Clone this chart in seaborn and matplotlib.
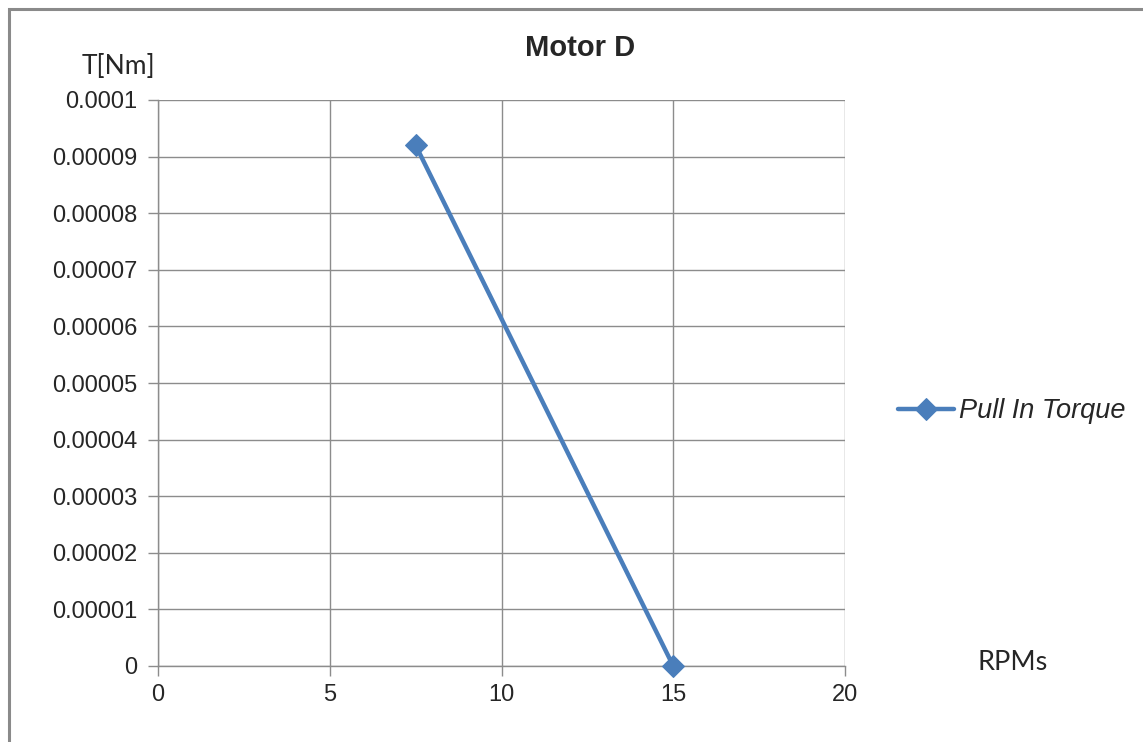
import pandas as pd
import numpy as np
import matplotlib
matplotlib.use("Agg")
import matplotlib.pyplot as plt
import seaborn as sns
from matplotlib.patches import Rectangle

# data
rpm = [7.5, 15]
torque = [0.000092, 0.0]
series_name = "Pull In Torque"
x_ticks = [0, 5, 10, 15, 20]
y_ticks = [0, 0.00001, 0.00002, 0.00003, 0.00004, 0.00005,
           0.00006, 0.00007, 0.00008, 0.00009, 0.0001]
y_labels = ["0", "0.00001", "0.00002", "0.00003", "0.00004", "0.00005",
            "0.00006", "0.00007", "0.00008", "0.00009", "0.0001"]

df = pd.DataFrame({"RPM": rpm, "Torque": torque, "Series": series_name})

sns.set_style("white")
plt.rcParams['font.family'] = ['Liberation Sans', 'DejaVu Sans']

W, H = 1143, 742
fig = plt.figure(figsize=(W / 100, H / 100), dpi=100)
ax = fig.add_axes([158/W, 1 - 666/H, (845-158)/W, (666-100)/H])

line_color = "#4A7EBB"
grid_color = "#8C8C8C"

sns.lineplot(data=df, x="RPM", y="Torque", hue="Series", palette=[line_color],
             marker="D", markersize=11, markeredgecolor=line_color,
             linewidth=3.2, ax=ax, zorder=5, clip_on=False)

ax.set_xlim(0, 20)
ax.set_ylim(0, 0.0001)
ax.set_xticks(x_ticks)
ax.set_xticklabels([str(t) for t in x_ticks], fontsize=17)
ax.set_yticks(y_ticks)
ax.set_yticklabels(y_labels, fontsize=17)
ax.set_xlabel("")
ax.set_ylabel("")

ax.grid(True, color=grid_color, linewidth=1)
for s in ["top", "right"]:
    ax.spines[s].set_visible(False)
for s in ["left", "bottom"]:
    ax.spines[s].set_color(grid_color)
    ax.spines[s].set_linewidth(1)
ax.tick_params(axis="both", direction="out", length=7, width=1,
               color=grid_color, left=True, bottom=True)
ax.tick_params(axis="y", pad=8)
ax.tick_params(axis="x", pad=6)

fig.text(580/W, 1 - 48/H, "Motor D", fontsize=21, fontweight="bold",
         ha="center", va="center")
fig.text(118/W, 1 - 66/H, "T[Nm]", fontsize=19, family="Lato",
         ha="center", va="center")
fig.text(1013/W, 1 - 663/H, "RPMs", fontsize=19.5, family="Lato",
         ha="center", va="center")

ax.legend(loc="center left", bbox_to_anchor=(898/W, 1 - 411/H),
          bbox_transform=fig.transFigure, frameon=False,
          prop={"size": 19.5, "style": "italic"}, handlelength=2.05,
          handletextpad=0.2, borderpad=0, borderaxespad=0)

# outer chart border
fig.patches.append(Rectangle((9/W, -0.02), 1.05, 1 - 9/H + 0.02,
                             transform=fig.transFigure, fill=False,
                             edgecolor="#8A8A8A", linewidth=2.2))

fig.savefig("out.png", dpi=100)
